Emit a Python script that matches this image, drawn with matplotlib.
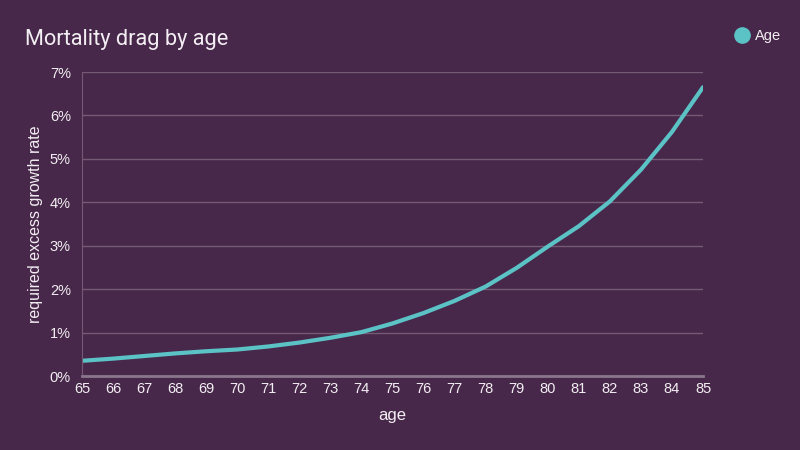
import matplotlib
matplotlib.use("Agg")
import matplotlib.pyplot as plt
from matplotlib.ticker import FuncFormatter

### Dữ liệu
ages = list(range(65, 86))
drag = [0.35, 0.40, 0.46, 0.52, 0.57, 0.61, 0.68, 0.77, 0.88, 1.01, 1.21,
        1.45, 1.73, 2.06, 2.49, 2.98, 3.45, 4.02, 4.75, 5.62, 6.65]
y_ticks = [0, 1, 2, 3, 4, 5, 6, 7]

bg = "#48284a"
line_col = "#5bc2c6"
grid_col = "#735a75"
txt = "#f2eef2"

plt.rcParams['font.family'] = ['Liberation Sans', 'DejaVu Sans']

fig = plt.figure(figsize=(8, 4.5), dpi=100, facecolor=bg)
ax = fig.add_axes([82/800, 1-376/450, (703-82)/800, (376-72)/450])
ax.set_facecolor(bg)

ax.plot(ages, drag, color=line_col, lw=3, label="Age", solid_capstyle="round")

ax.set_xlim(65, 85)
ax.set_ylim(0, 7)
ax.set_xticks(ages)
ax.set_yticks(y_ticks)
ax.yaxis.set_major_formatter(FuncFormatter(lambda v, p: f"{v:.0f}%"))
ax.grid(axis="y", color=grid_col, lw=1)
ax.set_axisbelow(True)
for s in ["top", "right"]:
    ax.spines[s].set_visible(False)
ax.spines["left"].set_color(grid_col)
ax.spines["bottom"].set_color("#8a768c")
ax.spines["bottom"].set_linewidth(2)
ax.tick_params(colors=txt, labelsize=10.5, length=0, pad=4)
ax.tick_params(axis="y", pad=8)

ax.set_xlabel("age", color=txt, fontsize=12, labelpad=9)
ax.set_ylabel("required excess growth rate", color=txt, fontsize=11.5, labelpad=5)

fig.text(25/800, 1-40/450, "Mortality drag by age", color=txt, fontsize=15.7,
         va="center", ha="left", family=['Roboto', 'Liberation Sans'])

fig.legend(loc="upper right", bbox_to_anchor=(0.993, 0.965), frameon=False,
           handlelength=0.8, handletextpad=0.5, labelcolor=txt, fontsize=10.5)
leg = fig.legends[0]
for h in leg.legend_handles:
    h.set_linestyle("none")
    h.set_marker("o")
    h.set_markersize(11)
    h.set_markerfacecolor(line_col)
    h.set_markeredgecolor(line_col)

fig.savefig("out.png", dpi=100, facecolor=bg)
